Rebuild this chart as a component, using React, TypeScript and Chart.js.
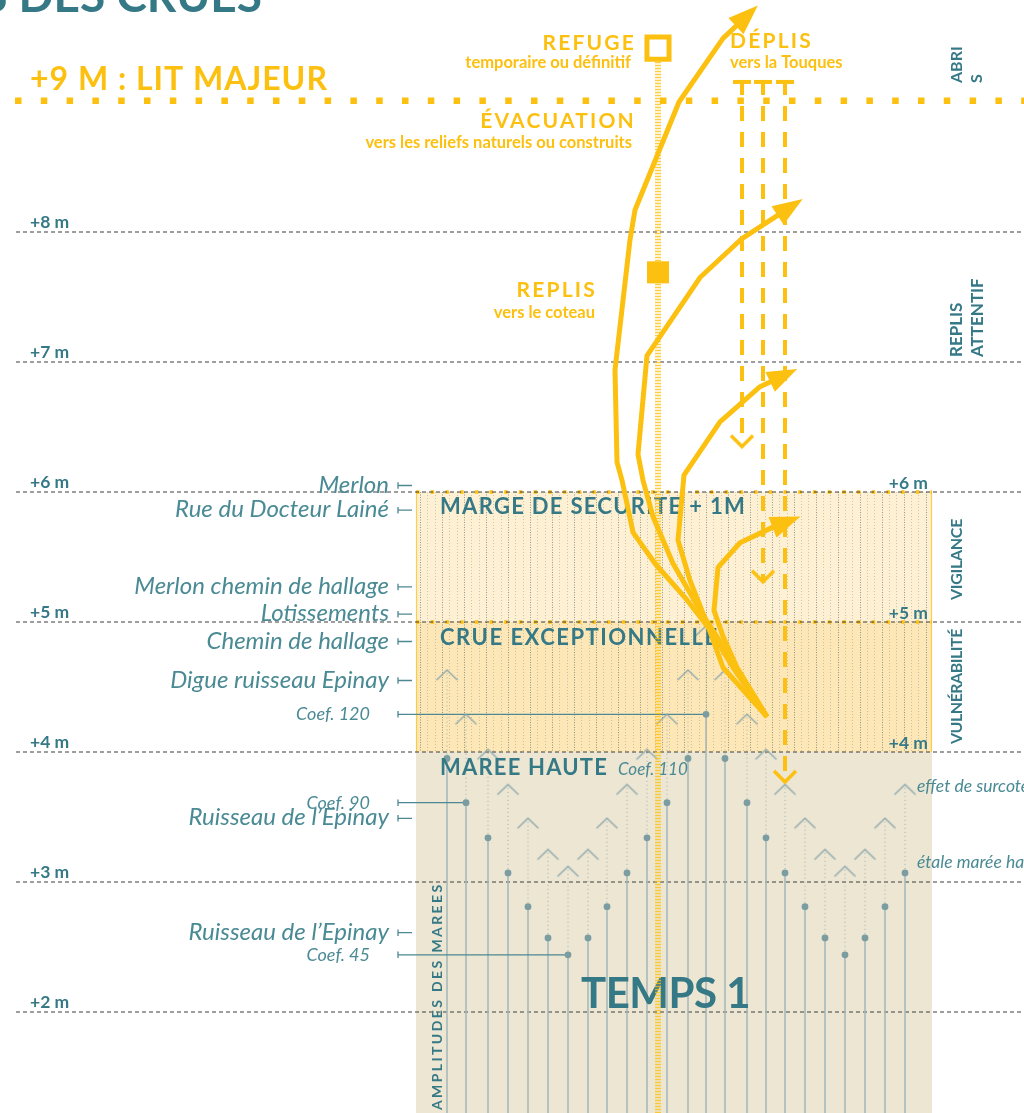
import React, { useEffect, useRef } from "react";
import { Chart, registerables } from "chart.js";

Chart.register(...registerables);

// ---------------- data ----------------
const yMin = 1.223;
const yMax = 9.785;
const xMin = 0;
const xMax = 1024;

const titleText = "LE TEMPS DES CRUES";
const gridLevels = [8, 7, 6, 5, 4, 3, 2];
const gridLabels = ["+8 m", "+7 m", "+6 m", "+5 m", "+4 m", "+3 m", "+2 m"];
const zoneScaleLevels = [6, 5, 4];
const zoneScaleLabels = ["+6 m", "+5 m", "+4 m"];
const litMajeurLevel = 9.01;
const litMajeurLabel = "+9 M : LIT MAJEUR";

const zoneNames = ["MARGE DE SECURITE + 1M", "CRUE EXCEPTIONNELLE", "MAREE HAUTE"];
const zoneTop = [6, 5, 4];
const zoneBottom = [5, 4, yMin];
const timeSpan = [416, 932];

const tideTime = [447, 466, 488, 508, 528, 548, 568, 588, 607, 627, 647, 667, 688, 706, 725, 747, 766, 785, 805, 825, 845, 865, 885, 905];
const tideHigh = [3.95, 3.61, 3.34, 3.07, 2.81, 2.57, 2.44, 2.57, 2.81, 3.07, 3.34, 3.61, 3.95, 4.29, 3.95, 3.61, 3.34, 3.07, 2.81, 2.57, 2.44, 2.57, 2.81, 3.07];
const surge = 0.68;

const refNames = ["Merlon", "Rue du Docteur Lainé", "Merlon chemin de hallage", "Lotissements", "Chemin de hallage", "Digue ruisseau Epinay", "Coef. 120", "Coef. 90", "Ruisseau de l’Epinay", "Ruisseau de l’Epinay", "Coef. 45"];
const refLevels = [6.05, 5.86, 5.27, 5.06, 4.85, 4.55, 4.29, 3.61, 3.49, 2.61, 2.44];
const refTide = [-1, -1, -1, -1, -1, -1, 13, 1, -1, -1, 6];

const evacX = [767, 733, 710, 687, 655, 633, 622, 617, 615, 630, 635, 679, 723, 752];
const evacY = [4.27, 4.65, 4.94, 5.17, 5.45, 5.69, 6.09, 6.23, 6.94, 7.94, 8.17, 9.0, 9.49, 9.7];
const replisX = [767, 730, 700, 673, 653, 643, 638, 647, 700, 742, 796];
const replisY = [4.27, 4.73, 5.09, 5.45, 5.81, 6.09, 6.29, 7.05, 7.65, 7.95, 8.22];
const replis2X = [767, 723, 707, 690, 678, 684, 720, 760, 790];
const replis2Y = [4.27, 4.65, 4.99, 5.32, 5.63, 6.13, 6.54, 6.81, 6.92];
const vigilX = [767, 737, 723, 714, 718, 740, 773, 793];
const vigilY = [4.27, 4.65, 4.89, 5.09, 5.42, 5.61, 5.73, 5.79];

const deplisX = [742, 763, 785];
const deplisTop = 9.17;
const deplisBottom = [6.35, 5.31, 3.77];

const ladderX = 658;
const ladderTop = 9.31;
const refugeLevels = [9.415, 7.69];

// ---------------- styles ----------------
const YELLOW = "#fcc010";
const TEAL = "#367986";
const TEAL_LT = "#4a8a94";
const FONT = "Lato, 'Open Sans', sans-serif";

type P = { x: number; y: number | null };
const pts = (xs: number[], ys: number[]): P[] => xs.map((x, i) => ({ x, y: ys[i] }));
const segments = (list: P[][]): P[] => {
  const out: P[] = [];
  list.forEach((s) => {
    out.push(...s);
    out.push({ x: s[s.length - 1].x, y: null });
  });
  return out;
};

function chevronImage(w: number, h: number, lw: number, color: string, down: boolean) {
  const c = document.createElement("canvas");
  c.width = Math.ceil(w + lw * 4);
  c.height = Math.ceil((h + lw * 2) * 2);
  const g = c.getContext("2d")!;
  const cx = c.width / 2;
  const cy = c.height / 2;
  g.strokeStyle = color;
  g.lineWidth = lw;
  g.lineJoin = "miter";
  g.beginPath();
  const dy = down ? -h : h;
  g.moveTo(cx - w / 2, cy + dy);
  g.lineTo(cx, cy);
  g.lineTo(cx + w / 2, cy + dy);
  g.stroke();
  return c;
}

function txt(ctx: CanvasRenderingContext2D, s: string, x: number, y: number, font: string, color: string, align: CanvasTextAlign = "left", ls = 0) {
  ctx.save();
  ctx.font = font;
  ctx.fillStyle = color;
  ctx.textAlign = align;
  ctx.textBaseline = "alphabetic";
  (ctx as any).letterSpacing = ls + "px";
  ctx.fillText(s, x, y);
  ctx.restore();
}
function vtxt(ctx: CanvasRenderingContext2D, s: string, x: number, y: number, font: string, color: string, ls = 0) {
  ctx.save();
  ctx.translate(x, y);
  ctx.rotate(-Math.PI / 2);
  ctx.font = font;
  ctx.fillStyle = color;
  ctx.textAlign = "left";
  ctx.textBaseline = "alphabetic";
  (ctx as any).letterSpacing = ls + "px";
  ctx.fillText(s, 0, 0);
  ctx.restore();
}

const diagramPlugin = {
  id: "diagram",
  beforeDatasetsDraw(chart: any) {
    const { ctx, scales } = chart;
    const xs = scales.x, ys = scales.y;
    const l = xs.getPixelForValue(timeSpan[0]);
    const r = xs.getPixelForValue(timeSpan[1]);
    const fills = ["#fef0d3", "#fde7b7", "#ece6d3"];
    ctx.save();
    zoneNames.forEach((_, i) => {
      const t = ys.getPixelForValue(zoneTop[i]);
      const b = ys.getPixelForValue(zoneBottom[i]);
      ctx.fillStyle = fills[i];
      ctx.fillRect(l, t, r - l, b - t);
    });
    const ht = ys.getPixelForValue(zoneTop[0]);
    const hb = ys.getPixelForValue(zoneBottom[1]);
    ctx.lineWidth = 1;
    let k = 0;
    for (let px = l + 4; px < r - 2; px += 7.33, k++) {
      const dark = k % 3 === 0;
      ctx.strokeStyle = dark ? "rgba(55,80,92,0.55)" : "rgba(130,135,140,0.42)";
      ctx.setLineDash(dark ? [1, 1.5] : [1, 2]);
      const xx = Math.round(px) + 0.5;
      ctx.beginPath();
      ctx.moveTo(xx, ht);
      ctx.lineTo(xx, hb);
      ctx.stroke();
    }
    ctx.setLineDash([]);
    ctx.strokeStyle = "rgba(252,192,16,0.7)";
    ctx.lineWidth = 1.2;
    ctx.beginPath();
    ctx.moveTo(l + 0.5, ht); ctx.lineTo(l + 0.5, hb);
    ctx.moveTo(r - 0.5, ht); ctx.lineTo(r - 0.5, hb);
    ctx.stroke();
    ctx.restore();
  },
  afterDatasetDraw(chart: any, args: any) {
    const ds = chart.data.datasets[args.index];
    if (ds.label !== "chevrons") return;
    const { ctx, scales } = chart;
    const xs = scales.x, ys = scales.y;
    const l = xs.getPixelForValue(timeSpan[0]);
    txt(ctx, zoneNames[0], l + 24, ys.getPixelForValue(zoneTop[0]) + 22, `bold 22px ${FONT}`, TEAL, "left", 1.3);
    txt(ctx, zoneNames[1], l + 24, ys.getPixelForValue(zoneTop[1]) + 23, `bold 22px ${FONT}`, TEAL, "left", 1.5);
    txt(ctx, zoneNames[2], l + 24, ys.getPixelForValue(zoneTop[2]) + 23, `bold 22px ${FONT}`, TEAL, "left", 1.2);
    txt(ctx, "Coef. 110", 618, ys.getPixelForValue(zoneTop[2]) + 23, `italic 17px ${FONT}`, TEAL_LT, "left");
    txt(ctx, "TEMPS 1", 581, 1008, `bold 42px ${FONT}`, TEAL, "left", -0.5);
    vtxt(ctx, "AMPLITUDES DES MAREES", 442, 1110, `bold 14px ${FONT}`, TEAL, 2.4);
  },
  afterDatasetsDraw(chart: any) {
    const { ctx, scales } = chart;
    const xs = scales.x, ys = scales.y;
    ctx.save();
    const arrows: [number[], number[]][] = [[evacX, evacY], [replisX, replisY], [replis2X, replis2Y], [vigilX, vigilY]];
    ctx.fillStyle = YELLOW;
    arrows.forEach(([ax, ay]) => {
      const n = ax.length;
      const x1 = xs.getPixelForValue(ax[n - 2]), y1 = ys.getPixelForValue(ay[n - 2]);
      const x2 = xs.getPixelForValue(ax[n - 1]), y2 = ys.getPixelForValue(ay[n - 1]);
      const d = Math.hypot(x2 - x1, y2 - y1);
      const ux = (x2 - x1) / d, uy = (y2 - y1) / d;
      const tx = x2 + 8 * ux, ty = y2 + 8 * uy;
      const bx = tx - 30 * ux, by = ty - 30 * uy;
      ctx.beginPath();
      ctx.moveTo(tx, ty);
      ctx.lineTo(bx - 11 * uy, by + 11 * ux);
      ctx.lineTo(bx + 11 * uy, by - 11 * ux);
      ctx.closePath();
      ctx.fill();
    });
    ctx.strokeStyle = YELLOW;
    ctx.lineWidth = 4;
    deplisX.forEach((dx) => {
      const px = xs.getPixelForValue(dx);
      const py = ys.getPixelForValue(deplisTop) + 2;
      ctx.beginPath();
      ctx.moveTo(px - 9, py);
      ctx.lineTo(px + 9, py);
      ctx.stroke();
    });
    ctx.restore();

    txt(ctx, titleText, 262, 12, `bold 46px ${FONT}`, TEAL, "right");
    txt(ctx, litMajeurLabel, 30, 90, `bold 32px ${FONT}`, YELLOW, "left", 1.0);

    gridLevels.forEach((lv, i) => {
      txt(ctx, gridLabels[i], 30, ys.getPixelForValue(lv) - 4, `bold 17.5px ${FONT}`, TEAL, "left");
    });
    zoneScaleLevels.forEach((lv, i) => {
      txt(ctx, zoneScaleLabels[i], 928, ys.getPixelForValue(lv) - 3, `bold 17.5px ${FONT}`, TEAL, "right");
    });

    txt(ctx, "REFUGE", 636, 50, `bold 21px ${FONT}`, YELLOW, "right", 2.2);
    txt(ctx, "temporaire ou définitif", 631, 68, `bold 16.5px ${FONT}`, YELLOW, "right");
    txt(ctx, "DÉPLIS", 730, 48, `bold 21px ${FONT}`, YELLOW, "left", 2.2);
    txt(ctx, "vers la Touques", 730, 68, `bold 16.5px ${FONT}`, YELLOW, "left");
    txt(ctx, "ÉVACUATION", 636, 128, `bold 21px ${FONT}`, YELLOW, "right", 2.2);
    txt(ctx, "vers les reliefs naturels ou construits", 632, 148, `bold 16.5px ${FONT}`, YELLOW, "right");
    txt(ctx, "REPLIS", 597, 297, `bold 21px ${FONT}`, YELLOW, "right", 2.2);
    txt(ctx, "vers le coteau", 595, 318, `bold 16.5px ${FONT}`, YELLOW, "right");

    refNames.forEach((s, i) => {
      const small = s.startsWith("Coef");
      const py = ys.getPixelForValue(refLevels[i]);
      if (small) txt(ctx, s, 370, py + 6, `italic 18px ${FONT}`, TEAL_LT, "right");
      else txt(ctx, s, 389, py + 7, `italic 24px ${FONT}`, TEAL_LT, "right");
    });

    txt(ctx, "effet de surcote", 917, 792, `italic 17.5px ${FONT}`, TEAL_LT, "left");
    txt(ctx, "étale marée haute", 917, 868, `italic 17.5px ${FONT}`, TEAL_LT, "left");

    vtxt(ctx, "ABRI", 962, 83, `bold 16px ${FONT}`, TEAL);
    vtxt(ctx, "S", 982, 83, `bold 16px ${FONT}`, TEAL);
    vtxt(ctx, "REPLIS", 962, 357, `bold 17px ${FONT}`, TEAL);
    vtxt(ctx, "ATTENTIF", 983, 357, `bold 17px ${FONT}`, TEAL);
    vtxt(ctx, "VIGILANCE", 962, 600, `bold 16px ${FONT}`, TEAL, -0.3);
    vtxt(ctx, "VULNÉRABILITÉ", 962, 744, `bold 16px ${FONT}`, TEAL, -0.5);
  },
};

export default function App() {
  const ref = useRef<HTMLCanvasElement | null>(null);

  useEffect(() => {
    if (!ref.current) return;
    const chevronUp = chevronImage(21, 10, 1.3, "#8ea8ac", false);
    const vDown = chevronImage(22, 11, 3.5, YELLOW, true);

    const line = (label: string, data: P[], color: string, width: number, order: number, extra: any = {}) => ({
      type: "line",
      label,
      data,
      borderColor: color,
      borderWidth: width,
      pointRadius: 0,
      showLine: true,
      spanGaps: false,
      tension: 0,
      fill: false,
      order,
      ...extra,
    });

    const gridData = segments(gridLevels.map((lv) => [{ x: 16, y: lv }, { x: xMax, y: lv }]));
    const boxTopData = segments([6, 5].map((lv) => [{ x: timeSpan[0], y: lv }, { x: timeSpan[1], y: lv }]));
    const stemData = segments(tideTime.map((t, i) => [{ x: t, y: tideHigh[i] }, { x: t, y: yMin }]));
    const surgeData = segments(tideTime.map((t, i) => [{ x: t, y: tideHigh[i] }, { x: t, y: tideHigh[i] + surge }]));
    const tickData = segments(
      refLevels.flatMap((lv, i) => {
        const endX = refTide[i] >= 0 ? tideTime[refTide[i]] : 412;
        return [
          [{ x: 398, y: lv }, { x: endX, y: lv }],
          [{ x: 398, y: lv + 0.025 }, { x: 398, y: lv - 0.025 }],
        ];
      })
    );

    const datasets: any[] = [
      line("boxTops", boxTopData, YELLOW, 3.5, 30, { borderDash: [3.5, 11.2], borderCapStyle: "butt" }),
      line("grid", gridData, "#3f3f3f", 1.1, 29, { borderDash: [4, 3] }),
      line("surge", surgeData, "rgba(120,150,158,0.65)", 1, 26, { borderDash: [1, 3] }),
      line("stems", stemData, "#a3b8bb", 1.5, 25),
      line("ticks", tickData, "#4d8893", 1.3, 24),
      {
        type: "scatter",
        label: "tides",
        data: pts(tideTime, tideHigh),
        pointRadius: 3.4,
        pointBackgroundColor: "#7b9da2",
        pointBorderWidth: 0,
        showLine: false,
        order: 23,
      },
      {
        type: "scatter",
        label: "chevrons",
        data: pts(tideTime, tideHigh.map((h) => h + surge)),
        pointStyle: chevronUp,
        showLine: false,
        order: 22,
      },
      line("ladder", [{ x: ladderX, y: ladderTop }, { x: ladderX, y: yMin }], "rgba(252,192,16,0.8)", 6, 10, { borderDash: [1.5, 1.5], borderCapStyle: "butt" }),
      line("litMajeur", [{ x: 15, y: litMajeurLevel }, { x: xMax, y: litMajeurLevel }], YELLOW, 6.5, 9, { borderDash: [6.5, 19.3], borderCapStyle: "butt" }),
      ...deplisX.map((dx, i) =>
        line("deplis" + i, [{ x: dx, y: deplisTop }, { x: dx, y: deplisBottom[i] }], YELLOW, 4, 8, { borderDash: [15, 11], borderCapStyle: "butt" })
      ),
      {
        type: "scatter",
        label: "deplisHeads",
        data: pts(deplisX, deplisBottom),
        pointStyle: vDown,
        showLine: false,
        order: 7,
      },
      line("evacuation", pts(evacX, evacY), YELLOW, 5, 4, { borderJoinStyle: "round" }),
      line("replis", pts(replisX, replisY), YELLOW, 5, 4, { borderJoinStyle: "round" }),
      line("replis2", pts(replis2X, replis2Y), YELLOW, 5, 4, { borderJoinStyle: "round" }),
      line("vigilance", pts(vigilX, vigilY), YELLOW, 5, 4, { borderJoinStyle: "round" }),
      {
        type: "scatter",
        label: "refuges",
        data: refugeLevels.map((lv) => ({ x: ladderX, y: lv })),
        pointStyle: "rect",
        pointRadius: [15.6, 15.6],
        pointBackgroundColor: ["rgba(255,255,255,1)", YELLOW],
        pointBorderColor: [YELLOW, YELLOW],
        pointBorderWidth: [5, 0],
        showLine: false,
        order: 1,
      },
    ];

    const chart = new Chart(ref.current, {
      type: "line",
      data: { datasets },
      options: {
        responsive: false,
        animation: false,
        events: [],
        layout: { padding: 0, autoPadding: false },
        scales: {
          x: { type: "linear", min: xMin, max: xMax, display: false },
          y: { type: "linear", min: yMin, max: yMax, display: false },
        },
        plugins: {
          legend: { display: false },
          tooltip: { enabled: false },
        },
      } as any,
      plugins: [diagramPlugin as any],
    });
    return () => chart.destroy();
  }, []);

  return (
    <div style={{ position: "absolute", left: 0, top: 0, width: 1024, height: 1113, background: "#ffffff" }}>
      <canvas ref={ref} width={1024} height={1113} style={{ display: "block" }} />
    </div>
  );
}
